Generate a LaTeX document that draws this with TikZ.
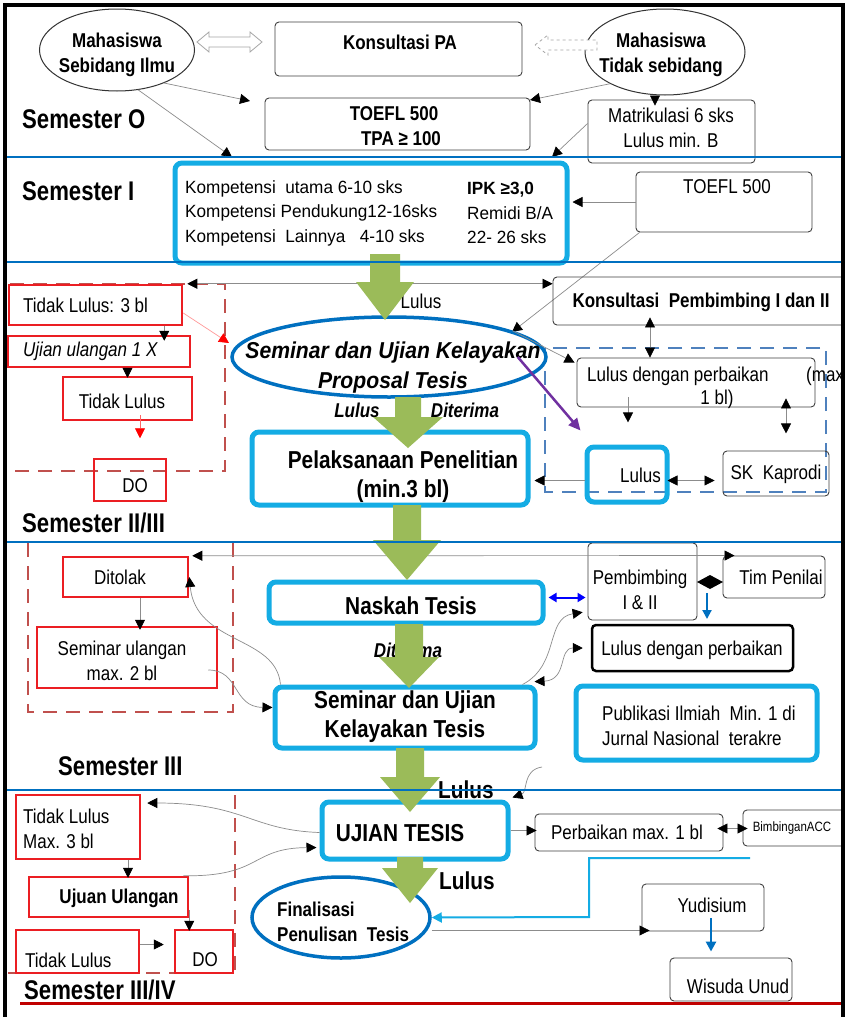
\documentclass[tikz,border=0pt]{standalone}
\usepackage{fontspec}
\setmainfont{Liberation Sans}[FakeStretch=0.85]
\newfontfamily\semonefont{Liberation Sans}[FakeStretch=0.97]
\newfontfamily\semlabfont{Liberation Sans}[FakeStretch=0.82]
\newfontfamily\ellfont{Liberation Sans}[FakeStretch=0.92]
\usetikzlibrary{arrows.meta,shapes.geometric,fit}
\definecolor{cyanc}{RGB}{20,172,228}
\definecolor{dblue}{RGB}{0,112,192}
\definecolor{grn}{RGB}{155,187,89}
\definecolor{redc}{RGB}{235,30,35}
\definecolor{dred}{RGB}{192,80,77}
\definecolor{dashblue}{RGB}{79,129,189}
\definecolor{purp}{RGB}{112,48,160}
\definecolor{sepred}{RGB}{192,0,0}
\newcommand\fnR{\fontsize{20}{25}\selectfont}
\newcommand\fnB{\fontsize{20}{25}\selectfont\bfseries}
\newcommand\fnL{\fontsize{24.5}{29}\selectfont\bfseries}
\newcommand\fnS{\semlabfont\fontsize{27}{30}\selectfont\bfseries}
\newcommand\fnBI{\ellfont\fontsize{23}{30}\selectfont\bfseries\itshape}
\newcommand\fnSI{\fontsize{20}{24}\selectfont\bfseries\itshape}
\newcommand\fnSem{\semonefont\fontsize{17.7}{24.5}\selectfont}
\newcommand\greenarr[6]{\fill[grn] (#1-#5,#2) -- (#1+#5,#2) -- (#1+#5,#3) -- (#1+#6,#3) -- (#1,#4) -- (#1-#6,#3) -- (#1-#5,#3) -- cycle;}
\tikzset{
  txt/.style={inner sep=0pt, align=center, font=\fnR},
  pbox/.style={draw=black!75, line width=0.9pt, rounded corners=4pt, inner sep=0pt},
  cbox/.style={draw=cyanc, line width=5pt, rounded corners=7pt, inner sep=0pt},
  rbox/.style={draw=redc, line width=2.5pt, inner sep=0pt},
  bell/.style={ellipse, draw=dblue, line width=3.5pt, inner sep=0pt},
  gline/.style={draw=black!45, line width=0.7pt},
  arr/.style={-{Triangle[length=10pt,width=10pt,color=black]}},
  darr/.style={{Triangle[length=10pt,width=10pt,color=black]}-{Triangle[length=10pt,width=10pt,color=black]}},
  sepline/.style={draw=dblue, line width=2.5pt},
  reddash/.style={draw=dred, line width=1.8pt, dash pattern=on 14pt off 9pt},
}
\begin{document}
\begin{tikzpicture}[x=1pt,y=-1pt]
\useasboundingbox (0,0) rectangle (845,1017);
\clip (0,0) rectangle (845,1017);
\fill[white] (0,0) rectangle (845,1017);

% ---------------- Semester O
\node[ellipse, draw=black!80, line width=1pt, minimum width=155pt, minimum height=82pt, inner sep=0pt] (lell) at (117,50) {};
\node[txt, font=\fnB] (lellt) at (117,55) {Mahasiswa\\Sebidang Ilmu};
\node[ellipse, draw=black!80, line width=1pt, minimum width=160pt, minimum height=86pt, inner sep=0pt] (rell) at (665,52) {};
\node[txt, font=\fnB] (rellt) at (661,55) {Mahasiswa\\Tidak sebidang};
\node[pbox, fit={(275,22) (522,76)}] (kpa) {};
\node[txt, font=\fnB] (kpat) at (400,42) {Konsultasi PA};
\node[pbox, fit={(265,98) (530,150)}] (toefl) {};
\node[txt, font=\fnB] (toeflt) at (394,126) {TOEFL 500\\\hspace*{14pt}TPA ≥ 100};
\node[pbox, fit={(588,100) (755,163)}] (matr) {};
\node[txt, font=\fnR] (matrt) at (671,128) {Matrikulasi 6 sks\\Lulus min. B};
\node[txt, font=\fnS, anchor=west] (s0) at (22,119) {Semester O};

% hollow arrows
\draw[draw=gray!70, fill=white, line width=0.8pt] (197,42) -- (209,32) -- (209,37) -- (250,37) -- (250,32) -- (262,42) -- (250,52) -- (250,47) -- (209,47) -- (209,52) -- cycle;
\draw[draw=gray!70, fill=white, line width=0.8pt, dashed] (535,45) -- (548,35) -- (548,40) -- (597,40) -- (597,50) -- (548,50) -- (548,55) -- cycle;

\coordinate (c1) at (250,101);
\coordinate (c2) at (232,157);
\coordinate (c3) at (530,100);
\coordinate (c5) at (552,157);
\draw[gline, arr] (lell.-35) -- (c1);
\draw[gline, arr] (lell.-62) -- (c2);
\draw[gline, arr] (rell.-150) -- (c3);
\draw[gline, arr] ([xshift=-10pt]rell.south) -- ([xshift=-10pt, yshift=-6pt]rell.south |- matr.north);
\draw[gline, arr] ([yshift=8pt]matr.west) -- (c5);

% ---------------- Semester I
\node[cbox, fit={(175,163) (567,263)}] (sem1) {};
\node[txt, font=\fnSem, anchor=west, align=left] (sem1l) at (185,213) {Kompetensi\ \ utama 6-10 sks\\Kompetensi Pendukung12-16sks\\Kompetensi\ \ Lainnya\ \ \ 4-10 sks};
\node[txt, font=\fnSem, anchor=west, align=left] (sem1r) at (467,213) {\textbf{IPK ≥3,0}\\Remidi B/A\\22- 26 sks};
\node[pbox, fit={(636,172) (812,232)}] (toefl2) {};
\node[txt, font=\fnR] (toefl2t) at (727,187) {TOEFL 500};
\node[txt, font=\fnS, anchor=west] (s1) at (22,191) {Semester I};
\draw[gline, arr, shorten >=3pt] (toefl2.west) -- (toefl2.west -| sem1.east);
\coordinate (c7) at (512,332);
\draw[gline, arr] ([xshift=4pt]toefl2.south west) -- (c7);

% ---------------- Semester II/III
\draw[reddash] (10,284) -- (225,284) -- (225,471) -- (10,471);
\node[rbox, fit={(9,285) (182,325)}] (tl3) {};
\node[txt, anchor=west] (tl3t) at (23,305) {Tidak Lulus: 3 bl};
\node[rbox, fit={(8,336) (190,367)}] (uu1) {};
\node[txt, anchor=west, font=\fnR\itshape] (uu1t) at (23,351) {Ujian ulangan 1 X};
\node[rbox, fit={(63,377) (192,420)}] (tlA) {};
\node[txt] (tlAt) at (122,401) {Tidak Lulus};
\node[rbox, fit={(94,459) (166,501)}] (do1) {};
\node[txt] (do1t) at (135,486) {DO};
\node[txt, font=\fnS, anchor=west] (s2) at (22,523) {Semester II/III};
\draw[gline, arr] ([xshift=-19pt]tl3.south east) -- ([xshift=-27pt, yshift=-6pt]uu1.north east);
\draw[gline, arr] (uu1.south -| tlA.north) -- ([yshift=-2pt]tlA.north);
\draw[draw=red!60, line width=0.7pt, -{Triangle[length=10pt,width=10pt,color=red]}] ([xshift=12.5pt,yshift=6pt]tlA.south) -- ([xshift=12.5pt,yshift=-17pt]tlA.south);
\coordinate (cred) at (229,343);
\draw[draw=red!40, line width=0.7pt, -{Triangle[length=10pt,width=10pt,color=red]}] ([yshift=-8pt]tl3.east) -- (cred);

\node[pbox, fit={(553,277) (850,325)}] (kp12) {};
\node[txt, font=\fnB] (kp12t) at (701,302) {Konsultasi\ \ Pembimbing I dan II};
\draw[gline, darr] ([xshift=4pt]tl3.north east) -- (kp12.west |- tl3.north east);

\draw[draw=dashblue, line width=1.8pt, dash pattern=on 14pt off 9pt] (545,348) rectangle (826,492);
\node[pbox, fit={(577,358) (815,407)}] (lp) {};
\node[txt, anchor=west] (lpt1) at (587,376) {Lulus dengan perbaikan};
\node[txt, anchor=west] (lpt2) at (806,376) {(max};
\node[txt] (lpt3) at (717,399) {1 bl)};
\draw[gline, darr] ([xshift=-51.5pt,yshift=8pt]kp12.south) -- ([xshift=-51.5pt]kp12.south |- lp.north);
\draw[gline, arr] ([xshift=-68pt,yshift=10pt]lp.south) -- ([xshift=-68pt,yshift=-15pt]lp.south);
\draw[gline, darr] ([xshift=90pt,yshift=9pt]lp.south) -- ([xshift=90pt,yshift=-26pt]lp.south);

\node[bell, minimum width=314pt, minimum height=80pt] (prop) at (389,357) {};
\node[txt, font=\fnBI] (propt) at (393,368) {Seminar dan Ujian Kelayakan\\Proposal Tesis};
\node[txt] (lulus1) at (421,301) {Lulus};
\node[txt, font=\fnSI] (lulus2) at (357,410) {Lulus};
\node[txt, font=\fnSI] (diterima1) at (465,410) {Diterima};
\draw[gline, arr] (prop.12) -- ([xshift=-2pt,yshift=-5pt]lp.north west);
\node[cbox, fit={(252,432) (528,505)}] (pel) {};
\node[txt, font=\fnL] (pelt) at (403,477) {Pelaksanaan Penelitian\\(min.3 bl)};

\node[cbox, fit={(587,447) (667,502)}] (lul) {};
\node[txt, anchor=east] (lult) at (661,475) {Lulus};
\node[pbox, fit={(723,451) (829,496)}] (skk) {};
\node[txt] (skkt) at (776,474) {SK\ \ Kaprodi};
\draw[gline, darr, shorten <=-2pt, shorten >=8pt] ([yshift=-6pt]lul.east) -- ([yshift=-6pt]lul.east -| skk.west);
\draw[gline, arr, shorten >=4pt] ([yshift=-6pt]lul.west) -- ([yshift=-6pt]lul.west -| pel.east);
\draw[draw=purp, line width=2.5pt, -{Triangle[length=12pt,width=11pt]}] ([xshift=-30pt]prop.east) -- ([xshift=-4pt,yshift=14pt]lul.north west);

% ---------------- Semester III
\draw[reddash] (28,543) -- (28,712) -- (233,712) -- (233,543);
\node[rbox, fit={(63,557) (188,597)}] (dit) {};
\node[txt] (ditt) at (120,577) {Ditolak};
\node[rbox, fit={(37,627) (217,688)}] (semul) {};
\node[txt] (semult) at (122,661) {Seminar ulangan\\max. 2 bl};
\draw[gline, arr] ([xshift=14.5pt]dit.south) -- ([xshift=14.5pt,yshift=-4pt]dit.south |- semul.north);
\node[txt, font=\fnS, anchor=west] (s3) at (58,766) {Semester III};

\node[pbox, fit={(588,543) (697,620)}] (pemb) {};
\node[txt] (pembt) at (640,590) {Pembimbing\\I \& II};
\node[pbox, fit={(723,556) (825,598)}] (tim) {};
\node[txt] (timt) at (781,577) {Tim Penilai};
\draw[gline, darr] ([xshift=3pt]dit.north east) -- ([xshift=12pt]tim.north west);
\fill (697,582) -- (710,575) -- (723,582) -- (710,589) -- cycle;
\draw[draw=dblue, line width=2pt, -{Triangle[length=9pt,width=9pt]}] (707,593) -- (707,619);

\node[cbox, fit={(269,582) (543,623)}] (nask) {};
\node[txt, font=\fnL] (naskt) at (411,606) {Naskah Tesis};
\draw[draw=blue, line width=2pt, {Triangle[length=8pt,width=9pt]}-{Triangle[length=8pt,width=9pt]}, shorten <=3pt, shorten >=2pt] ([yshift=5pt]nask.east) -- ([yshift=5pt]nask.east -| pemb.west);
\node[txt, font=\fnSI] (diterima2) at (408,650) {Diterima};
\node[cbox, fit={(275,687) (535,748)}] (semkt) {};
\node[txt, font=\fnL] (semktt) at (405,717) {Seminar dan Ujian\\Kelayakan Tesis};
\node[txt, font=\fnL] (lulus3) at (466,790) {Lulus};

\draw[gline, arr] ([xshift=8pt]semkt.north west) .. controls (276,635) and (196,645) .. (dit.east);
\draw[gline, arr] ([xshift=-10pt,yshift=-12.5pt]semul.east) .. controls (240,670) and (232,707) .. ([yshift=10pt]semkt.west);

\node[draw=black, line width=2.5pt, rounded corners=4pt, inner sep=0pt, fit={(592,625) (793,671)}] (ldp) {};
\node[txt] (ldpt) at (692,650) {Lulus dengan perbaikan};
\draw[gline, arr, shorten >=5pt] ([xshift=-15pt]semkt.north east) .. controls (560,665) and (545,618) .. ([yshift=-30pt]pemb.west);
\draw[gline, darr, shorten <=-3pt, shorten >=8pt] ([yshift=3pt]semkt.north east) .. controls (568,680) and (558,648) .. (ldp.west);
\node[cbox, fit={(576,686) (817,760)}] (publ) {};
\node[txt, anchor=west, align=left] (publt) at (602,726) {Publikasi Ilmiah\ \ Min. 1 di\\Jurnal Nasional\ \ terakre};

% ---------------- Semester III/IV
\draw[reddash] (8,973) -- (235,973) -- (235,792);
\node[rbox, fit={(16,795) (140,859)}] (tlm) {};
\node[txt, anchor=west, align=left] (tlmt) at (23,829) {Tidak Lulus\\Max. 3 bl};
\node[rbox, fit={(29,877) (188,917)}] (uu2) {};
\node[txt, font=\fnB] (uu2t) at (119,898) {Ujuan Ulangan};
\node[rbox, fit={(16,930) (139,973)}] (tl2) {};
\node[txt, anchor=west] (tl2t) at (25,960) {Tidak Lulus};
\node[rbox, fit={(175,930) (233,973)}] (do2) {};
\node[txt] (do2t) at (205,960) {DO};
\node[txt, font=\fnS, anchor=west] (s4) at (24,990) {Semester III/IV};
\draw[gline, arr] ([xshift=50pt]tlm.south) -- ([xshift=50pt,yshift=-2pt]tlm.south |- uu2.north);
\draw[gline, arr] ([yshift=8pt]uu2.south east) -- ([yshift=-2pt]uu2.south east |- do2.north);
\draw[gline, arr, shorten >=10pt] ([yshift=7pt]tl2.east) -- ([yshift=7pt]tl2.east -| do2.west);

\node[cbox, fit={(322,802) (508,859)}] (ujian) {};
\node[txt, font=\fnL] (ujiant) at (400,833) {UJIAN TESIS};
\node[txt, font=\fnL] (lulus4) at (467,881) {Lulus};
\draw[gline, arr, shorten >=6pt] ([yshift=-2pt]ujian.west) .. controls (250,830) and (245,803) .. ([yshift=24pt]tlm.east);
\draw[gline, arr, shorten >=3pt] ([xshift=-6pt]uu2.north east) .. controls (262,877) and (250,848) .. ([yshift=-17pt]ujian.west);
\coordinate (c9) at (542,767);
\draw[gline, arr] (c9) .. controls (522,770) and (528,792) .. ([xshift=2pt,yshift=2pt]ujian.north east);

\node[bell, minimum width=178pt, minimum height=81pt] (fin) at (341,917.5) {};
\node[txt, font=\fnB, anchor=west, align=left] (fint) at (277,922) {Finalisasi\\Penulisan\ \ Tesis};

\node[pbox, fit={(535,814) (723,851)}] (perb) {};
\node[txt] (perbt) at (627,832) {Perbaikan max. 1 bl};
\node[pbox, fit={(743,810) (850,846)}] (bacc) {};
\node[txt, font=\fontsize{13.5}{16}\selectfont] (bacct) at (792,828) {BimbinganACC};
\draw[gline, arr, shorten >=-2pt] (ujian.east) -- (ujian.east -| perb.west);
\draw[gline, darr] ([xshift=-6pt, yshift=4pt]perb.east) -- ([xshift=5pt, yshift=4pt]perb.east -| bacc.west);
\coordinate (cys) at (750,858);
\draw[draw=cyanc, line width=2pt, -{Triangle[length=10pt,width=10pt]}] (cys) -- (589,858) -- (589,917) -- (fin.east);

\node[pbox, fit={(642,884) (764,931)}] (yud) {};
\node[txt] (yudt) at (712,905) {Yudisium};
\node[pbox, fit={(670,958) (792,1001)}] (wis) {};
\node[txt] (wist) at (738,986) {Wisuda Unud};
\draw[gline, arr, shorten >=-8pt] ([yshift=-13pt]fin.east) -- ([yshift=-13pt]fin.east -| yud.west);
\draw[draw=dblue, line width=2.5pt, -{Triangle[length=10pt,width=10pt]}, shorten <=-13pt, shorten >=6pt] ([xshift=8pt]yud.south) -- ([xshift=8pt]yud.south |- wis.north);

% ---------------- green arrows
\greenarr{385}{254}{282}{320}{15}{29}
\greenarr{408}{397}{417}{448}{13}{35}
\greenarr{407}{505}{540}{580}{14}{34}
\greenarr{409}{624}{657}{688}{14}{30}
\greenarr{410}{748}{777}{812}{14}{30}
\greenarr{410}{857}{868}{903}{13}{28}

% ---------------- separators and frame
\draw[sepline] (5,157) -- (845,157);
\draw[sepline] (5,262) -- (845,262);
\draw[sepline] (5,542) -- (845,542);
\draw[sepline] (5,790) -- (845,790);
\draw[draw=sepred, line width=3pt] (20,1003) -- (845,1003);
\draw[line width=4pt] (5,1017) -- (5,5) -- (843,5) -- (843,1017);
\end{tikzpicture}
\end{document}
